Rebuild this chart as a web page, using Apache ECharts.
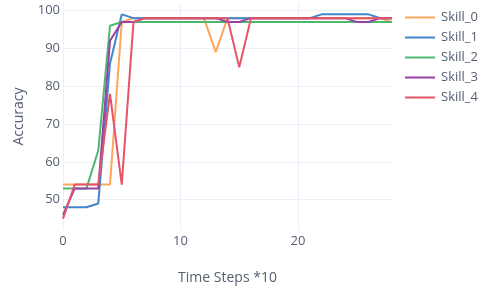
<!DOCTYPE html>
<html>
<head>
<meta charset="utf-8">
<script src="https://cdn.jsdelivr.net/npm/echarts@6/dist/echarts.min.js"></script>
<style>
    html, body { margin: 0; padding: 0; background: #fff; }
    .echarts_1 { width: 481px; height: 293px; }
</style>
</head>
<body>
<div class="echarts_1"></div>
<script>
// 数据
var steps = [0,1,2,3,4,5,6,7,8,9,10,11,12,13,14,15,16,17,18,19,20,21,22,23,24,25,26,27,28];
var skill_0 = [54,54,54,54,54,97,98,98,98,98,98,98,98,89,98,98,98,98,98,98,98,98,98,98,98,98,98,98,97];
var skill_1 = [48,48,48,49,86,99,98,98,98,98,98,98,98,98,98,98,98,98,98,98,98,98,99,99,99,99,99,98,98];
var skill_2 = [53,53,53,63,96,97,97,97,97,97,97,97,97,97,97,97,97,97,97,97,97,97,97,97,97,97,97,97,97];
var skill_3 = [46,53,53,53,92,97,97,98,98,98,98,98,98,98,97,97,98,98,98,98,98,98,98,98,98,97,97,98,98];
var skill_4 = [45,54,54,54,78,54,97,98,98,98,98,98,98,98,98,85,98,98,98,98,98,98,98,98,98,98,98,98,98];
var names = ['Skill_0', 'Skill_1', 'Skill_2', 'Skill_3', 'Skill_4'];
var xTicks = [0, 10, 20];
var yTicks = [50, 60, 70, 80, 90, 100];

var colors = ['#fea65a', '#4186c6', '#4bb86e', '#9b3ea7', '#e4546a'];
var gridColor = '#ebf0f8';
var textColor = '#566073';
var none = 'rgba(0,0,0,0)';

function pairs(ys) {
    return ys.map(function (v, i) { return [steps[i], v]; });
}

var echarts_1 = echarts.init(document.querySelector('.echarts_1'));

var option1 = {
    animation: false,
    color: colors,
    textStyle: { fontFamily: 'Open Sans' },
    grid: { left: 63, right: 89, top: 3, bottom: 63 },
    // 图例: 只画线
    legend: {
        orient: 'vertical',
        left: 405,
        top: 10,
        padding: 0,
        icon: 'rect',
        itemWidth: 30,
        itemHeight: 2,
        itemGap: 5,
        textStyle: { color: textColor, fontSize: 13, fontFamily: 'Open Sans', padding: [0, 0, 0, 1], lineHeight: 15 },
        data: names
    },
    xAxis: {
        type: 'value',
        min: 0,
        max: 28,
        // 步长2, 只显示10的倍数
        interval: 2,
        name: 'Time Steps *10',
        nameLocation: 'middle',
        nameGap: 41,
        nameTextStyle: { color: textColor, fontSize: 14, verticalAlign: 'top' },
        axisLine: { show: false },
        axisTick: { show: false },
        axisLabel: {
            color: textColor,
            fontSize: 13,
            margin: 5,
            formatter: function (v) { return xTicks.indexOf(v) >= 0 ? String(v) : ''; }
        },
        splitLine: { lineStyle: { color: [gridColor, none, none, none, none], width: 1 } }
    },
    yAxis: {
        type: 'value',
        min: 42,
        max: 102,
        interval: 2,
        name: 'Accuracy',
        nameLocation: 'middle',
        nameGap: 37,
        nameTextStyle: { color: textColor, fontSize: 14 },
        axisLine: { show: false },
        axisTick: { show: false },
        axisLabel: {
            color: textColor,
            fontSize: 13,
            margin: 3,
            formatter: function (v) { return yTicks.indexOf(v) >= 0 ? String(v) : ''; }
        },
        splitLine: { lineStyle: { color: [none, none, none, none, gridColor], width: 1 } }
    },
    series: [skill_0, skill_1, skill_2, skill_3, skill_4].map(function (ys, k) {
        return {
            name: names[k],
            type: 'line',
            symbol: 'none',
            data: pairs(ys),
            lineStyle: { width: 2 }
        };
    })
};

echarts_1.setOption(option1);
</script>
</body>
</html>
